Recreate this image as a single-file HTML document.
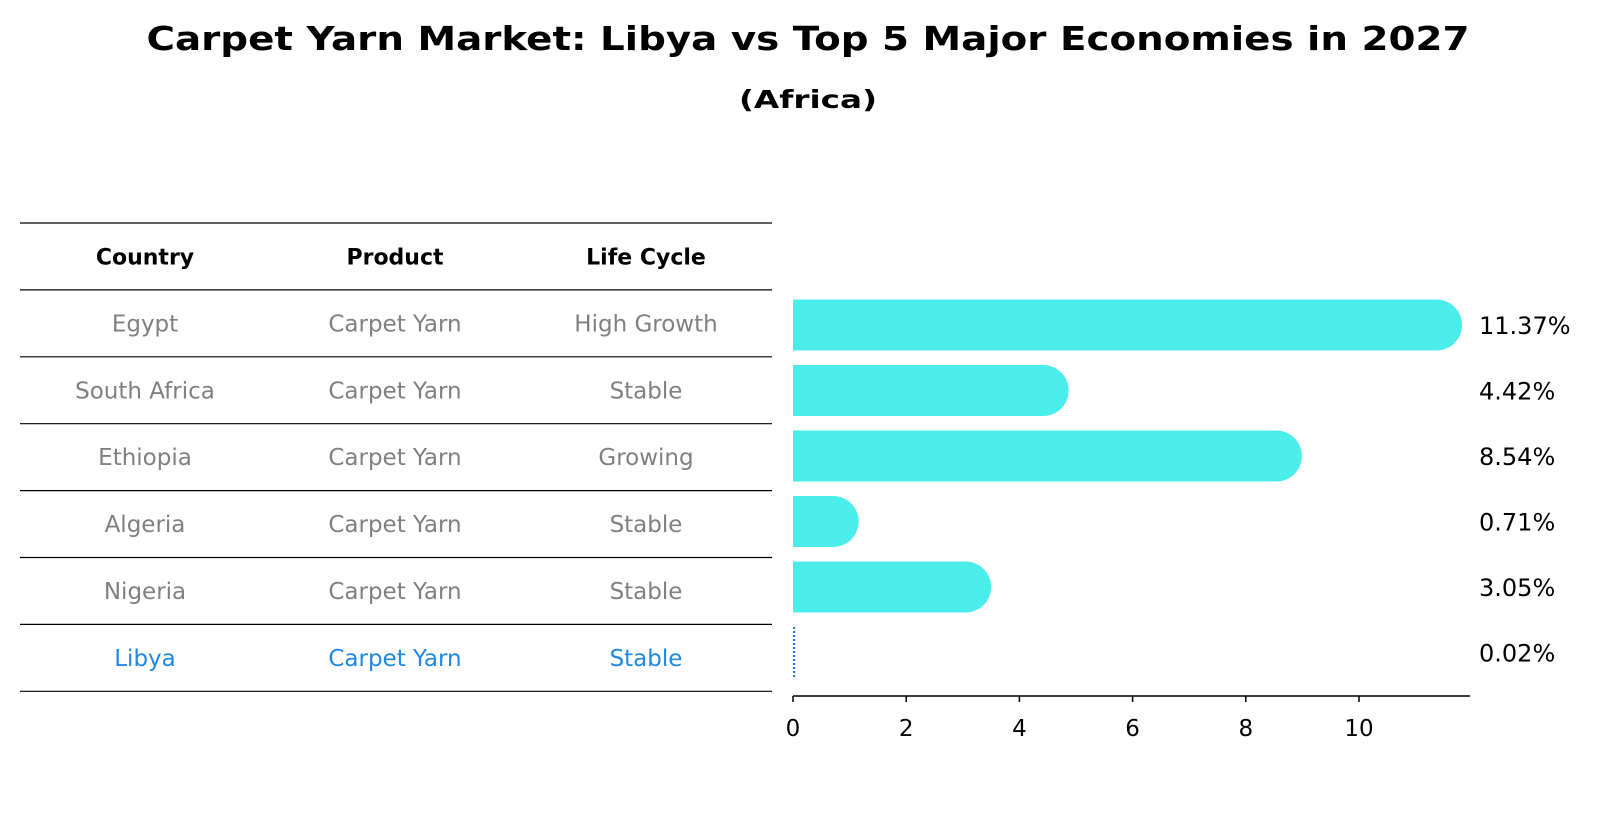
<!DOCTYPE html>
<html><head><meta charset="utf-8"><style>
html,body{margin:0;padding:0;background:#fff;}
svg{display:block;font-family:"DejaVu Sans","Liberation Sans",sans-serif;}
</style></head><body>
<svg id="chart" width="1604" height="823" viewBox="0 0 1604 823">
<text x="808" y="50" text-anchor="middle" font-size="33" font-weight="bold" textLength="1323" lengthAdjust="spacingAndGlyphs">Carpet Yarn Market: Libya vs Top 5 Major Economies in 2027</text>
<text x="808" y="108" text-anchor="middle" font-size="25" font-weight="bold" textLength="138" lengthAdjust="spacingAndGlyphs">(Africa)</text>
<g id="table"></g>
<g id="bars"></g>
</svg>
<script>
const countries=["Egypt","South Africa","Ethiopia","Algeria","Nigeria","Libya"];
const products=["Carpet Yarn","Carpet Yarn","Carpet Yarn","Carpet Yarn","Carpet Yarn","Carpet Yarn"];
const lifeCycles=["High Growth","Stable","Growing","Stable","Stable","Stable"];
const values=[11.37,4.42,8.54,0.71,3.05,0.02];
const tickValues=[0,2,4,6,8,10];

const NS="http://www.w3.org/2000/svg";
function mk(tag,attrs,parent){const e=document.createElementNS(NS,tag);for(const k in attrs)e.setAttribute(k,attrs[k]);parent.appendChild(e);return e;}
const table=document.getElementById('table');
const bars=document.getElementById('bars');
const rowTop=223,rowH=66.9,tx0=20,tx1=772;
const colX=[145,395,646];
const headers=["Country","Product","Life Cycle"];
for(let c=0;c<3;c++){
  const t=mk('text',{x:colX[c],y:rowTop+rowH/2+8,'text-anchor':'middle','font-size':22,'font-weight':'bold',fill:'#000'},table);
  t.textContent=headers[c];
  
  
}
for(let i=0;i<=countries.length+1;i++){
  const l=mk('line',{x1:tx0,x2:tx1,y1:rowTop+i*rowH,y2:rowTop+i*rowH,stroke:'#000','stroke-width':1.2},table);
  
  
}
for(let r=0;r<countries.length;r++){
  const y=rowTop+(r+1)*rowH+rowH/2+8;
  const col=countries[r]==="Libya"?'#1E88E5':'#808080';
  const cells=[countries[r],products[r],lifeCycles[r]];
  for(let c=0;c<3;c++){
    const t=mk('text',{x:colX[c],y:y,'text-anchor':'middle','font-size':23,fill:col},table);
    t.textContent=cells[c];
    
    
  }
}
const x0=793,pxPerUnit=56.6;
const xs=v=>x0+v*pxPerUnit;
const barTop=299.5,barStep=65.5,barH=51;
const ys=i=>barTop+i*barStep+barH/2;
for(let i=0;i<values.length;i++){
  const v=values[i],cy=ys(i);
  if(countries[i]==="Libya"){
    const l=mk('line',{x1:xs(v),x2:xs(v),y1:cy-barH/2,y2:cy+barH/2,stroke:'#1E6FB8','stroke-width':2,'stroke-dasharray':'2,2'},bars);
    
    
  }else{
    const xe=xs(v),r=barH/2;
    const p=mk('path',{d:`M${x0},${cy-r} L${xe},${cy-r} A${r},${r} 0 0 1 ${xe},${cy+r} L${x0},${cy+r} Z`,fill:'#4BEDEA'},bars);
    
    
  }
  const t=mk('text',{x:1479,y:cy+9,'font-size':24,fill:'#000'},bars);
  t.textContent=v.toFixed(2)+'%';
  
  
}
const axisY=696;
const ax=mk('line',{x1:x0,x2:1470,y1:axisY,y2:axisY,stroke:'#000','stroke-width':1.5},bars);


for(const tv of tickValues){
  const tk=mk('line',{x1:xs(tv),x2:xs(tv),y1:axisY,y2:axisY+6,stroke:'#000','stroke-width':1.5},bars);
  
  
  const tl=mk('text',{x:xs(tv),y:axisY+40,'text-anchor':'middle','font-size':23,fill:'#000'},bars);
  tl.textContent=String(tv);
  
  
}
</script>
</body></html>
